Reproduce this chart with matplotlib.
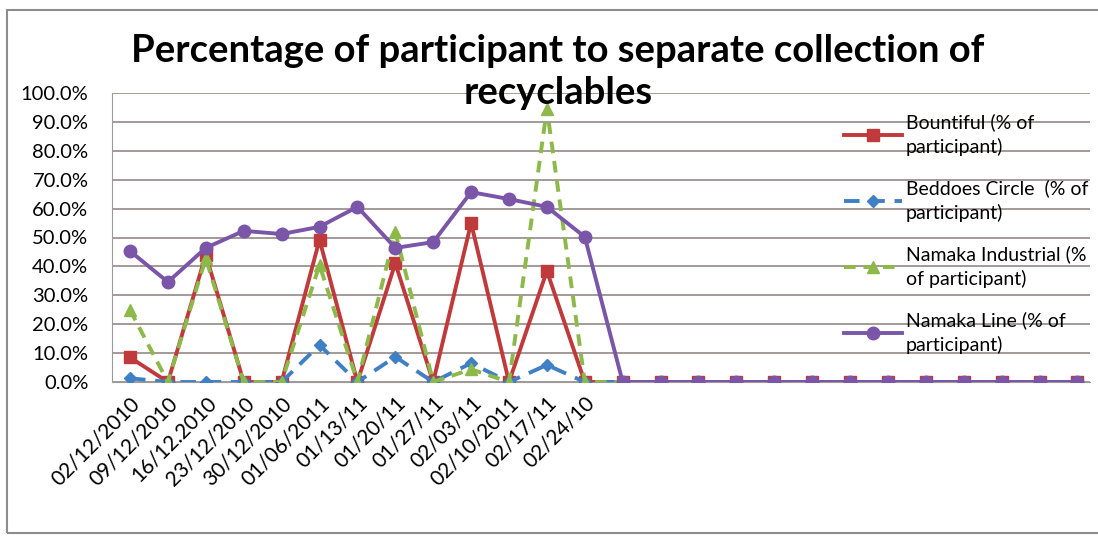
import matplotlib.pyplot as plt
from matplotlib.patches import Rectangle

# x labels (13 labelled weeks, then 13 unlabelled slots)
dates = ['02/12/2010', '09/12/2010', '16/12.2010', '23/12/2010', '30/12/2010',
         '01/06/2011', '01/13/11', '01/20/11', '01/27/11', '02/03/11',
         '02/10/2011', '02/17/11', '02/24/10']
labels = dates + [''] * 13

bountiful = [8.5, 0, 44, 0, 0, 49.2, 0, 41.1, 0, 55, 0, 38.4, 0] + [0] * 13
beddoes = [1.3, 0, 0, 0, 0, 12.8, 0, 8.7, 0, 6.5, 0, 5.9, 0] + [0] * 13
industrial = [24.9, 0, 42.8, 0, 0, 40.5, 0, 51.9, 0, 4.4, 0, 94.5, 0] + [0] * 13
line = [45.3, 34.6, 46.4, 52.3, 51.2, 53.7, 60.6, 46.4, 48.4, 65.7, 63.3, 60.6, 50.2] + [0] * 13

plt.rcParams['font.family'] = ['Lato', 'DejaVu Sans']

fig = plt.figure(figsize=(10.98, 5.36), dpi=100)
fig.patches.append(Rectangle((7 / 1098, 3 / 536), 1.1, 523 / 536, transform=fig.transFigure,
                             fill=False, edgecolor='#8c8c8c', linewidth=1.5))
ax = fig.add_axes([112 / 1098, 1 - 382 / 536, (1090 - 112) / 1098, 289 / 536])

x = list(range(len(labels)))
ax.plot(x, bountiful, color='#c0393b', lw=2.8, marker='s', ms=8, zorder=3,
        label='Bountiful (% of\nparticipant)')
ax.plot(x, beddoes, color='#3f7fc4', lw=2.8, ls=(0, (4, 2.5)), marker='D', ms=6, zorder=4,
        label='Beddoes Circle  (% of\nparticipant)')
ax.plot(x, industrial, color='#8db84a', lw=2.8, ls=(0, (3, 2)), marker='^', ms=9, zorder=5,
        label='Namaka Industrial (%\nof participant)')
ax.plot(x, line, color='#7a55a8', lw=2.8, marker='o', ms=9, zorder=6,
        label='Namaka Line (% of\nparticipant)')

ax.set_ylim(0, 100)
ax.set_xlim(-0.475, 25.33)
ax.set_yticks(range(0, 101, 10))
ax.set_yticklabels([f'{v:.1f}%' for v in range(0, 101, 10)], fontsize=14.5)
ax.set_xticks(x)
ax.set_xticklabels(labels, rotation=45, ha='right', rotation_mode='anchor', fontsize=15)
ax.tick_params(axis='y', length=0, pad=17)
ax.tick_params(axis='x', length=0, pad=8)
ax.grid(axis='y', color='#8a7f7a', lw=1.1)
ax.set_axisbelow(True)
for s in ['top', 'right']:
    ax.spines[s].set_visible(False)
ax.spines['left'].set_color('#9a9a9a')
ax.spines['bottom'].set_color('#9a9a9a')

fig.text(0.508, 1 - 72 / 536, 'Percentage of participant to separate collection of\nrecyclables',
         ha='center', va='center', fontsize=27.5, fontweight='bold', linespacing=1.3)

leg = ax.legend(loc='upper left', bbox_to_anchor=(826 / 1098, 1 - 96 / 536),
                bbox_transform=fig.transFigure, frameon=False, fontsize=14,
                labelspacing=1.2, handlelength=3.0, handletextpad=0.2)
for t in leg.get_texts():
    t.set_linespacing(1.45)

fig.savefig('out.png', dpi=100)
